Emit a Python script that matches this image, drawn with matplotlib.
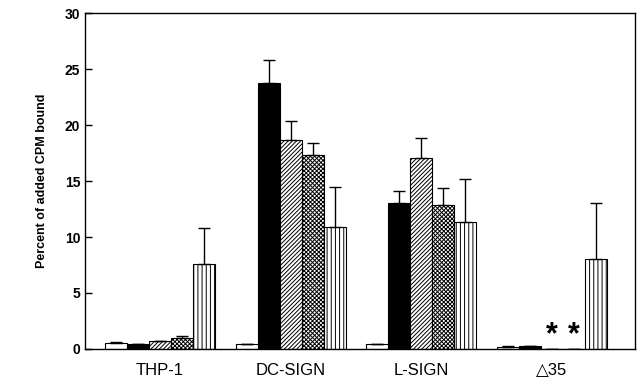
import numpy as np
import matplotlib
matplotlib.use("Agg")
import matplotlib.pyplot as plt

plt.rcParams["font.family"] = ["Liberation Sans", "DejaVu Sans"]
plt.rcParams["hatch.linewidth"] = 0.7

# Data
groups = ["THP-1", "DC-SIGN", "L-SIGN", "\u25b335"]
white = [0.5, 0.4, 0.4, 0.2]
black = [0.4, 23.8, 13.0, 0.25]
diag = [0.7, 18.7, 17.1, 0.0]
cross = [1.0, 17.3, 12.9, 0.0]
vert = [7.6, 10.9, 11.3, 8.0]

white_err = [0.1, 0.05, 0.05, 0.05]
black_err = [0.05, 2.0, 1.1, 0.05]
diag_err = [0.05, 1.7, 1.7, 0.0]
cross_err = [0.2, 1.1, 1.5, 0.0]
vert_err = [3.2, 3.6, 3.9, 5.0]

# bars marked with * (not detected) in the last group
star_series = [2, 3]

series = [
    (white, white_err, "white", None),
    (black, black_err, "black", None),
    (diag, diag_err, "white", "////////"),
    (cross, cross_err, "white", "xxxxxxxx"),
    (vert, vert_err, "white", "||||"),
]

fig = plt.figure(figsize=(6.4, 3.86), dpi=100)
ax = fig.add_axes([0.133, 0.096, 0.859, 0.870])

x = np.arange(len(groups))
w = 0.168
for k, (vals, errs, fc, hatch) in enumerate(series):
    pos = x + (k - 2) * w
    ax.bar(pos, vals, w, color=fc, edgecolor="black", linewidth=0.8,
           hatch=hatch, yerr=[np.zeros(len(errs)), errs],
           error_kw=dict(ecolor="black", elinewidth=1.0, capsize=4, capthick=1.0))

for k in star_series:
    ax.text(x[-1] + (k - 2) * w, 1.2, "*", ha="center", va="center",
            fontsize=22, fontweight="bold")

ax.set_xlim(-0.573, 3.634)
ax.set_ylim(0, 30)
ax.set_yticks([0, 5, 10, 15, 20, 25, 30])
ax.set_yticklabels(["0", "5", "10", "15", "20", "25", "30"], fontweight="bold", fontsize=10)
ax.tick_params(axis="y", direction="in", length=5, width=1)
ax.set_xticks(x)
ax.set_xticklabels(groups, fontsize=12)
ax.tick_params(axis="x", length=0, pad=10)
ax.set_ylabel("Percent of added CPM bound", fontsize=9, fontweight="bold", labelpad=12)
for s in ax.spines.values():
    s.set_linewidth(1.0)

fig.savefig("out.png", dpi=100)
